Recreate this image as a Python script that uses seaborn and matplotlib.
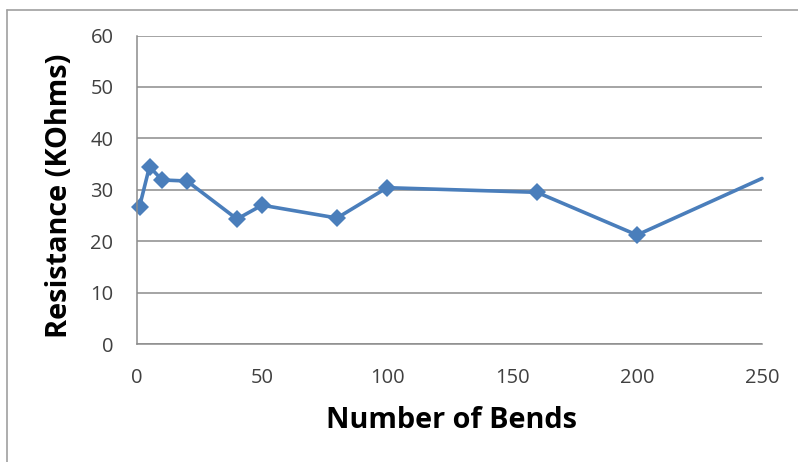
import matplotlib
matplotlib.use("Agg")
import matplotlib.pyplot as plt
import seaborn as sns
import pandas as pd
from matplotlib.lines import Line2D

bends = [1, 5, 10, 20, 40, 50, 80, 100, 160, 200, 250]
resistance = [26.7, 34.5, 31.9, 31.7, 24.3, 27.0, 24.5, 30.4, 29.5, 21.2, 32.2]
x_ticks = [0, 50, 100, 150, 200, 250]
y_ticks = [0, 10, 20, 30, 40, 50, 60]

sns.set_theme(style="white")
plt.rcParams['font.family'] = ['Open Sans', 'DejaVu Sans']

df = pd.DataFrame({"bends": bends, "res": resistance})

fig = plt.figure(figsize=(7.98, 4.62), dpi=100)
ax = fig.add_axes([137/798, 1 - 344/462, (762-137)/798, (344-35.5)/462])

sns.lineplot(data=df, x="bends", y="res", ax=ax, color="#4A7EBB", linewidth=2.6,
             marker="D", markersize=9.5, markeredgewidth=0,
             markevery=list(range(len(bends) - 1)))
for ln in ax.lines:
    ln.set_clip_on(False)

ax.set_xlim(0, 250)
ax.set_ylim(0, 60)
ax.set_xticks(x_ticks)
ax.set_yticks(y_ticks)
ax.tick_params(axis="both", labelsize=14.5, labelcolor="#404040", length=0, pad=17)
ax.grid(axis="y", color="#8c8c8c", linewidth=1.1)
ax.grid(axis="x", visible=False)
for s in ["top", "right"]:
    ax.spines[s].set_visible(False)
for s in ["left", "bottom"]:
    ax.spines[s].set_color("#8c8c8c")
    ax.spines[s].set_linewidth(1.1)

ax.set_xlabel("Number of Bends", fontsize=20.8, fontweight="bold", color="black")
ax.set_ylabel("Resistance (KOhms)", fontsize=20.8, fontweight="bold", color="black")
ax.xaxis.label.set_va("center")
ax.yaxis.label.set_va("center")
ax.xaxis.set_label_coords((451.5 - 137) / 625, (344 - 421) / 308.5)
ax.yaxis.set_label_coords((60 - 137) / 625, (344 - 196) / 308.5)

fig.add_artist(Line2D([7/798, 7/798], [0, 1 - 10/462], color="#a0a0a0", linewidth=1.2))
fig.add_artist(Line2D([7/798, 1], [1 - 10/462, 1 - 10/462], color="#a0a0a0", linewidth=1.2))

fig.savefig("out.png", dpi=100)
